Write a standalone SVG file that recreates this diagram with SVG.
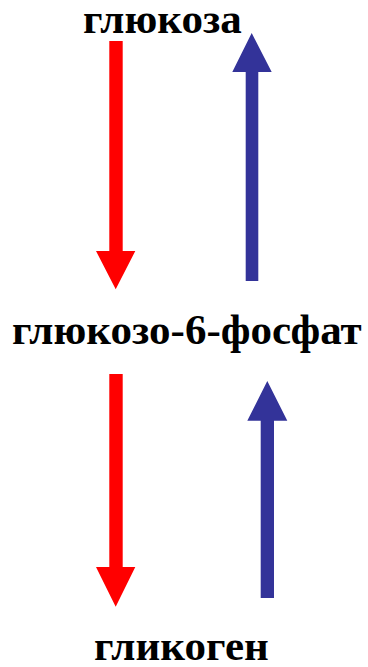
<svg xmlns="http://www.w3.org/2000/svg" width="368" height="667" viewBox="0 0 368 667">
<style>
.t{font-family:"Liberation Serif","Times New Roman",serif;font-weight:bold;font-size:43px;fill:#000}
.r{fill:#FF0000}
.b{fill:#333399}
</style>
<rect width="368" height="667" fill="#fff"/>
<g id="glucose"><text class="t" x="83" y="33">глюкоза</text></g>
<g id="g6p"><text class="t" x="12" y="344">глюкозо-6-фосфат</text></g>
<g id="glycogen"><text class="t" x="94" y="660">гликоген</text></g>
<g id="connectors">
<polygon class="r" points="109.3,41 122.7,41 122.7,251 135.3,251 115.7,289.3 96,251 109.3,251"/>
<polygon class="b" points="251.7,33 271.7,72 258.3,72 258.3,281 245.7,281 245.7,72 232.3,72"/>
<polygon class="r" points="109.3,374 122.7,374 122.7,567 135.3,567 115.7,606.7 96,567 109.3,567"/>
<polygon class="b" points="267.3,381 287.3,420.7 274,420.7 274,598 260.7,598 260.7,420.7 247.3,420.7"/>
</g>
</svg>
